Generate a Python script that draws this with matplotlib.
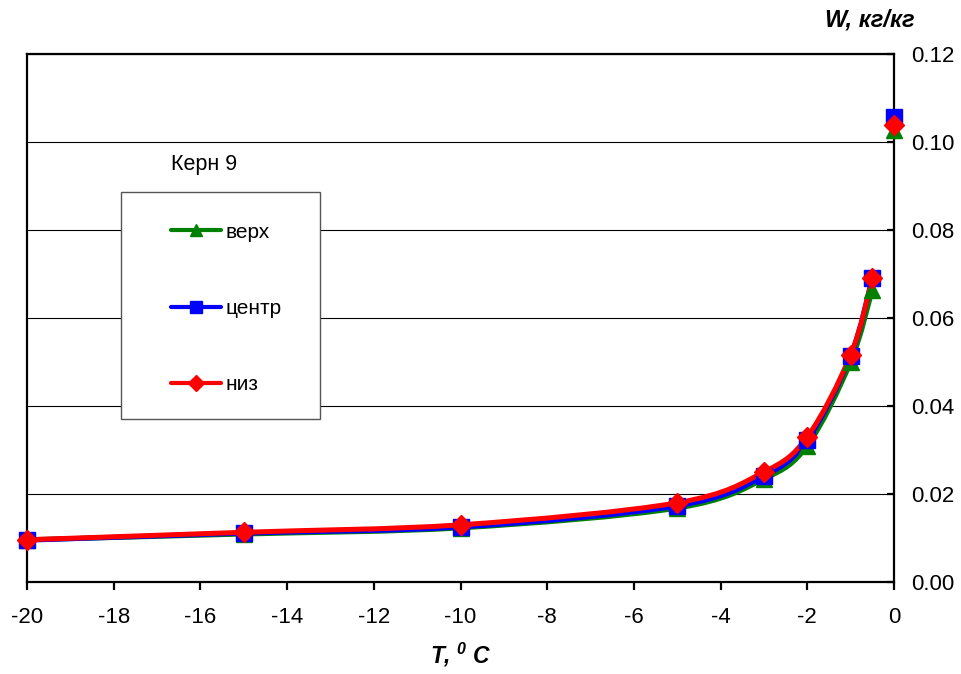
import matplotlib
matplotlib.use("Agg")
import matplotlib.pyplot as plt
import matplotlib as mpl
import numpy as np
from matplotlib.path import Path
from matplotlib.patches import PathPatch, Rectangle
from matplotlib.lines import Line2D

# данные
temp = [-20, -15, -10, -5, -3, -2, -1, -0.5, 0]
w_top = [0.0096, 0.0109, 0.0123, 0.0168, 0.0234, 0.0310, 0.0500, 0.0664, 0.1027]
w_center = [0.0095, 0.0111, 0.0125, 0.0173, 0.0241, 0.0323, 0.0514, 0.0691, 0.1057]
w_bottom = [0.0096, 0.0113, 0.0130, 0.0180, 0.0250, 0.0330, 0.0516, 0.0690, 0.1039]
labels = ["верх", "центр", "низ"]
n_curve = 8  # сглаженная линия идёт до -0.5, точка при 0 отдельно

mpl.rc('font', family=['Liberation Sans', 'DejaVu Sans'], size=15)
mpl.rc('axes', unicode_minus=False)
mpl.rc('mathtext', fontset='custom', rm='Liberation Sans:bold:italic',
       it='Liberation Sans:bold:italic')


def smooth_path(x, y):
    # сглаживание как в Excel (кривые Безье через точки)
    p = np.column_stack([x, y])
    verts = [p[0]]
    codes = [Path.MOVETO]
    n = len(p)
    for i in range(n - 1):
        p0 = p[i - 1] if i > 0 else p[i]
        p3 = p[i + 2] if i + 2 < n else p[i + 1]
        c1 = p[i] + (p[i + 1] - p0) / 6
        c2 = p[i + 1] - (p3 - p[i]) / 6
        verts += [c1, c2, p[i + 1]]
        codes += [Path.CURVE4] * 3
    return Path(verts, codes)


fig = plt.figure(figsize=(9.62, 6.74), dpi=100)
ax = fig.add_axes([0.0281, 0.1365, 0.9012, 0.7834])

series = [(w_top, 'green', '^'), (w_center, 'blue', 's'), (w_bottom, 'red', 'D')]
handles = []
for i, ((w, col, mk), lab) in enumerate(zip(series, labels)):
    patch = PathPatch(smooth_path(temp[:n_curve], w[:n_curve]), fill=False,
                      edgecolor=col, lw=3.6, capstyle='round', joinstyle='round',
                      zorder=2 + i * 0.1)
    ax.add_patch(patch)
    ms = 11 if mk != 'D' else 10
    ax.plot(temp, w, linestyle='none', marker=mk, color=col, markersize=ms,
            markeredgecolor=col, clip_on=False, zorder=3 + i * 0.1)
    handles.append(Line2D([], [], color=col, lw=3, marker=mk, markersize=8,
                          solid_capstyle='round'))

ax.set_xlim(-20, 0)
ax.set_ylim(0, 0.12)
ax.set_xticks(np.arange(-20, 1, 2))
ax.set_yticks(np.arange(0, 0.121, 0.02))
ax.yaxis.set_major_formatter(mpl.ticker.FormatStrFormatter('%.2f'))
ax.yaxis.tick_right()
ax.grid(axis='y', color='black', lw=0.8)
ax.set_axisbelow(True)
for s in ax.spines.values():
    s.set_linewidth(1.6)
ax.tick_params(axis='x', direction='out', length=6, width=1.6, pad=12, labelsize=16)
ax.tick_params(axis='y', direction='in', length=5, width=1.6, pad=12, labelsize=16)

ax.set_xlabel("T, $^{0}$ C", fontsize=16.5, fontweight='bold', fontstyle='italic',
              labelpad=9)
ax.text(0.972, 1.064, "W, кг/кг", transform=ax.transAxes, ha='center', va='center',
        fontsize=17, fontweight='bold', fontstyle='italic')

# легенда
ax.add_patch(Rectangle((0.108, 0.309), 0.23, 0.43, transform=ax.transAxes,
                       facecolor='white', edgecolor='#555555', lw=1.0, zorder=4))
ax.text(0.2045, 0.79, "Керн 9", transform=ax.transAxes, ha='center', va='center',
        fontsize=15.5, zorder=5)
leg = ax.legend(handles, labels, loc='upper left', bbox_to_anchor=(0.145, 0.716),
                frameon=False, handlelength=2.4, handletextpad=0.2,
                labelspacing=2.75, fontsize=15)
leg.set_zorder(6)

fig.savefig("out.png", dpi=100)
plt.close('all')
